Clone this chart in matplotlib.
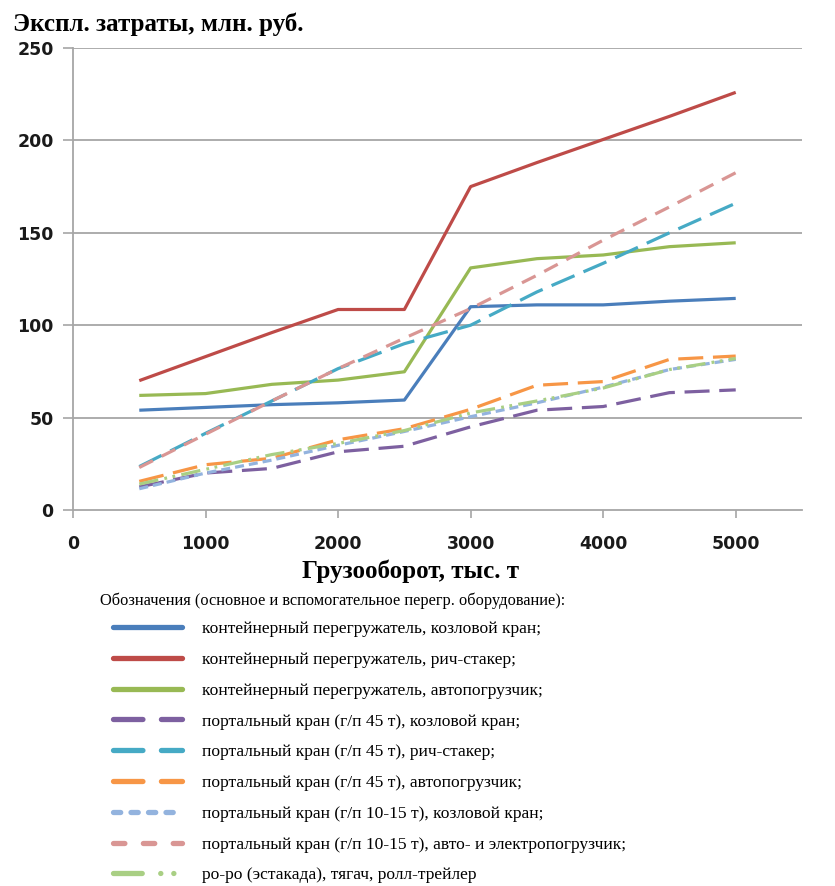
import matplotlib
matplotlib.use("Agg")
import matplotlib.pyplot as plt
from matplotlib.lines import Line2D

plt.rcParams['lines.scale_dashes'] = False

# Грузооборот, тыс. т
turnover = [500, 1000, 1500, 2000, 2500, 3000, 3500, 4000, 4500, 5000]

# Эксплуатационные затраты, млн. руб.
cont_gantry = [54, 55.5, 57, 58, 59.5, 110, 111, 111, 113, 114.5]
cont_reach = [70, 83, 96, 108.5, 108.5, 175, 188, 200.5, 213, 226]
cont_fork = [62, 63, 68, 70.3, 74.8, 131, 136, 138, 142.5, 144.6]
port45_gantry = [12.5, 20, 22.5, 31.5, 34.5, 45, 54, 56, 63.5, 65]
port45_reach = [23.5, 41.5, 59, 76.5, 90, 100, 118, 133.5, 150, 166]
port45_fork = [15.5, 24.5, 28, 38, 44, 54.5, 67.5, 69.5, 81.5, 83.3]
port10_gantry = [11.5, 20, 27, 35, 42.5, 50.5, 58, 66.5, 76, 81.5]
port10_fork = [23, 41, 59, 76.5, 93, 109, 127, 146, 164, 182.5]
roro = [14, 22, 30, 36, 43, 52.5, 59, 66, 76, 82]

labels = [
    "контейнерный перегружатель, козловой кран;",
    "контейнерный перегружатель, рич-стакер;",
    "контейнерный перегружатель, автопогрузчик;",
    "портальный кран (г/п 45 т), козловой кран;",
    "портальный кран (г/п 45 т), рич-стакер;",
    "портальный кран (г/п 45 т), автопогрузчик;",
    "портальный кран (г/п 10-15 т), козловой кран;",
    "портальный кран (г/п 10-15 т), авто- и электропогрузчик;",
    "ро-ро (эстакада), тягач, ролл-трейлер",
]

x_ticks = [0, 1000, 2000, 3000, 4000, 5000]
y_ticks = [0, 50, 100, 150, 200, 250]

series = [cont_gantry, cont_reach, cont_fork, port45_gantry, port45_reach,
          port45_fork, port10_gantry, port10_fork, roro]
colors = ['#4A7EBB', '#BE4B48', '#98B954', '#7D60A0', '#46AAC5',
          '#F79646', '#93B3DE', '#D99694', '#A9CF84']
plot_dashes = [None, None, None, (18, 7), (18, 7), (18, 7), (6.5, 3.6),
               (11, 7), (14, 4.5, 2, 4, 2, 4.5)]
# legend samples use round caps, so dash lengths are shortened by the cap size
legend_dashes = [None, None, None, (21.2, 13.3), (21.2, 13.3), (21.2, 13.3),
                 (5.2, 7.4), (8.2, 13.3), (20.7, 13.3, 0.1, 9.3, 0.1, 30)]

fig = plt.figure(figsize=(8.35, 8.86), dpi=100)
ax = fig.add_axes([73 / 835, 1 - 510 / 886, (802 - 73) / 835, (510 - 48) / 886])

grid_c = '#A6A6A6'
for yv in y_ticks[1:]:
    ax.axhline(yv, color=grid_c, lw=1.3, zorder=0)

for vals, c, d in zip(series, colors, plot_dashes):
    ln, = ax.plot(turnover, vals, color=c, lw=2.3, solid_capstyle='butt',
                  dash_capstyle='butt', zorder=2)
    if d is not None:
        ln.set_dashes(d)

ax.set_xlim(0, 5500)
ax.set_ylim(0, 250)
ax.set_xticks(x_ticks)
ax.set_yticks(y_ticks)
for s in ['top', 'right']:
    ax.spines[s].set_visible(False)
for s in ['left', 'bottom']:
    ax.spines[s].set_color(grid_c)
    ax.spines[s].set_linewidth(1.3)
ax.tick_params(axis='y', length=7, width=1.2, color=grid_c, pad=7)
ax.tick_params(axis='x', length=6, width=1.2, color=grid_c, pad=12)
for lab in ax.get_xticklabels() + ax.get_yticklabels():
    lab.set_fontfamily('DejaVu Sans')
    lab.set_fontweight('bold')
    lab.set_fontsize(12.5)
    lab.set_color('#1A1A1A')

fig.text(13 / 835, 1 - 24 / 886, "Экспл. затраты, млн. руб.",
         family='Liberation Serif', weight='bold', fontsize=18,
         ha='left', va='center')
fig.text(410 / 835, 1 - 571 / 886, "Грузооборот, тыс. т",
         family='Liberation Serif', weight='bold', fontsize=18,
         ha='center', va='center')
fig.text(100 / 835, 1 - 601 / 886,
         "Обозначения (основное и вспомогательное перегр. оборудование):",
         family='Liberation Serif', fontsize=11.8, ha='left', va='center')

handles = []
for c, d in zip(colors, legend_dashes):
    h = Line2D([], [], color=c, lw=3.8, solid_capstyle='round',
               dash_capstyle='round')
    if d is not None:
        h.set_dashes(d)
    handles.append(h)

fig.legend(handles, labels, loc='upper left',
           bbox_to_anchor=(113 / 835, 1 - 621 / 886),
           frameon=False, borderpad=0, borderaxespad=0,
           handlelength=3.95, handletextpad=1.14, labelspacing=0.83,
           prop={'family': 'Liberation Serif', 'size': 12.6})

fig.savefig("out.png", dpi=100)
